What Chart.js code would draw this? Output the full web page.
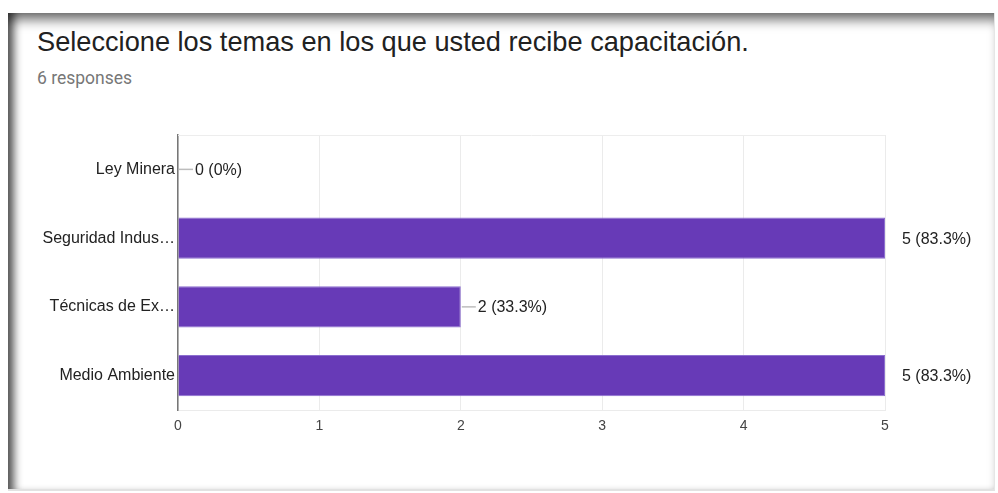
<!DOCTYPE html>
<html>
<head>
<meta charset="utf-8">
<script src="https://cdn.jsdelivr.net/npm/chart.js@4"></script>
<style>
  body { margin: 0; background: #fff; width: 998px; height: 493px; overflow: hidden; position: relative; font-family: "Liberation Sans", Arial, sans-serif; }
  #frame {
    position: absolute; left: 8px; top: 13px; width: 986px; height: 476px;
    box-shadow: inset 11px 0 9px -5px rgba(0,0,0,0.65), inset 0 13px 12px -6px rgba(0,0,0,0.55);
    border-right: 1px solid #e6e6e6; border-bottom: 2px solid #e2e2e2;
  }
  #title { position: absolute; left: 37px; top: 28px; font-size: 27.2px; line-height: 1; color: #212121; white-space: nowrap; }
  #sub { position: absolute; left: 37px; top: 70px; font-family: Roboto, sans-serif; font-size: 17.5px; line-height: 1; color: #777; }
  #wrap { position: absolute; left: 0; top: 120px; width: 998px; height: 320px; }
</style>
</head>
<body>
<div id="frame"></div>
<div id="title">Seleccione los temas en los que usted recibe capacitación.</div>
<div id="sub">6 responses</div>
<div id="wrap"><canvas id="chart"></canvas></div>
<script>
const categories = ['Ley Minera', 'Seguridad Indus…', 'Técnicas de Ex…', 'Medio Ambiente'];
const counts = [0, 5, 2, 5];
const percents = ['0%', '83.3%', '33.3%', '83.3%'];
const xTicks = [0, 1, 2, 3, 4, 5];

const FONT = '"Liberation Sans", Arial, sans-serif';

// etiquetas "n (x%)" con una rayita gris
const valueLabels = {
  id: 'valueLabels',
  afterDatasetsDraw(chart) {
    const ctx = chart.ctx;
    const meta = chart.getDatasetMeta(0);
    ctx.save();
    ctx.font = '16px ' + FONT;
    ctx.textBaseline = 'middle';
    meta.data.forEach((bar, i) => {
      const x = bar.x;
      const y = bar.y;
      if (counts[i] < xTicks[xTicks.length - 1]) {
        ctx.strokeStyle = '#bdbdbd';
        ctx.lineWidth = 1.5;
        ctx.beginPath();
        ctx.moveTo(x + 1, y);
        ctx.lineTo(x + 15, y);
        ctx.stroke();
      }
      ctx.fillStyle = '#222';
      ctx.fillText(counts[i] + ' (' + percents[i] + ')', x + 17, y + 1);
    });
    ctx.restore();
  }
};

// linea superior del area
const topLine = {
  id: 'topLine',
  beforeDatasetsDraw(chart) {
    const a = chart.chartArea;
    const ctx = chart.ctx;
    ctx.save();
    ctx.strokeStyle = '#ededed';
    ctx.lineWidth = 1;
    ctx.beginPath();
    ctx.moveTo(a.left, a.top + 0.5);
    ctx.lineTo(a.right, a.top + 0.5);
    ctx.stroke();
    ctx.restore();
  }
};

new Chart(document.getElementById('chart'), {
  type: 'bar',
  data: {
    labels: categories,
    datasets: [{
      data: counts,
      backgroundColor: '#673ab7',
      borderColor: '#8c6fcf',
      borderWidth: 1,
      categoryPercentage: 1,
      barPercentage: 0.6
    }]
  },
  options: {
    indexAxis: 'y',
    responsive: true,
    maintainAspectRatio: false,
    animation: false,
    layout: { padding: { top: 15, right: 113, left: 0, bottom: 0 } },
    plugins: { legend: { display: false }, tooltip: { enabled: false } },
    scales: {
      x: {
        min: 0, max: 5,
        afterBuildTicks(scale) { scale.ticks = xTicks.map(v => ({ value: v })); },
        afterFit(scale) { scale.height = 30; },
        grid: { color: '#ebebeb', drawTicks: false },
        border: { color: '#ebebeb' },
        ticks: { padding: 8, color: '#444', font: { size: 14, family: FONT } }
      },
      y: {
        afterFit(scale) { scale.width = 178; },
        grid: { display: false, drawTicks: false },
        border: { color: '#777', width: 1.5 },
        ticks: { padding: 3, color: '#222', font: { size: 16, family: FONT } }
      }
    }
  },
  plugins: [valueLabels, topLine]
});
</script>
</body>
</html>
